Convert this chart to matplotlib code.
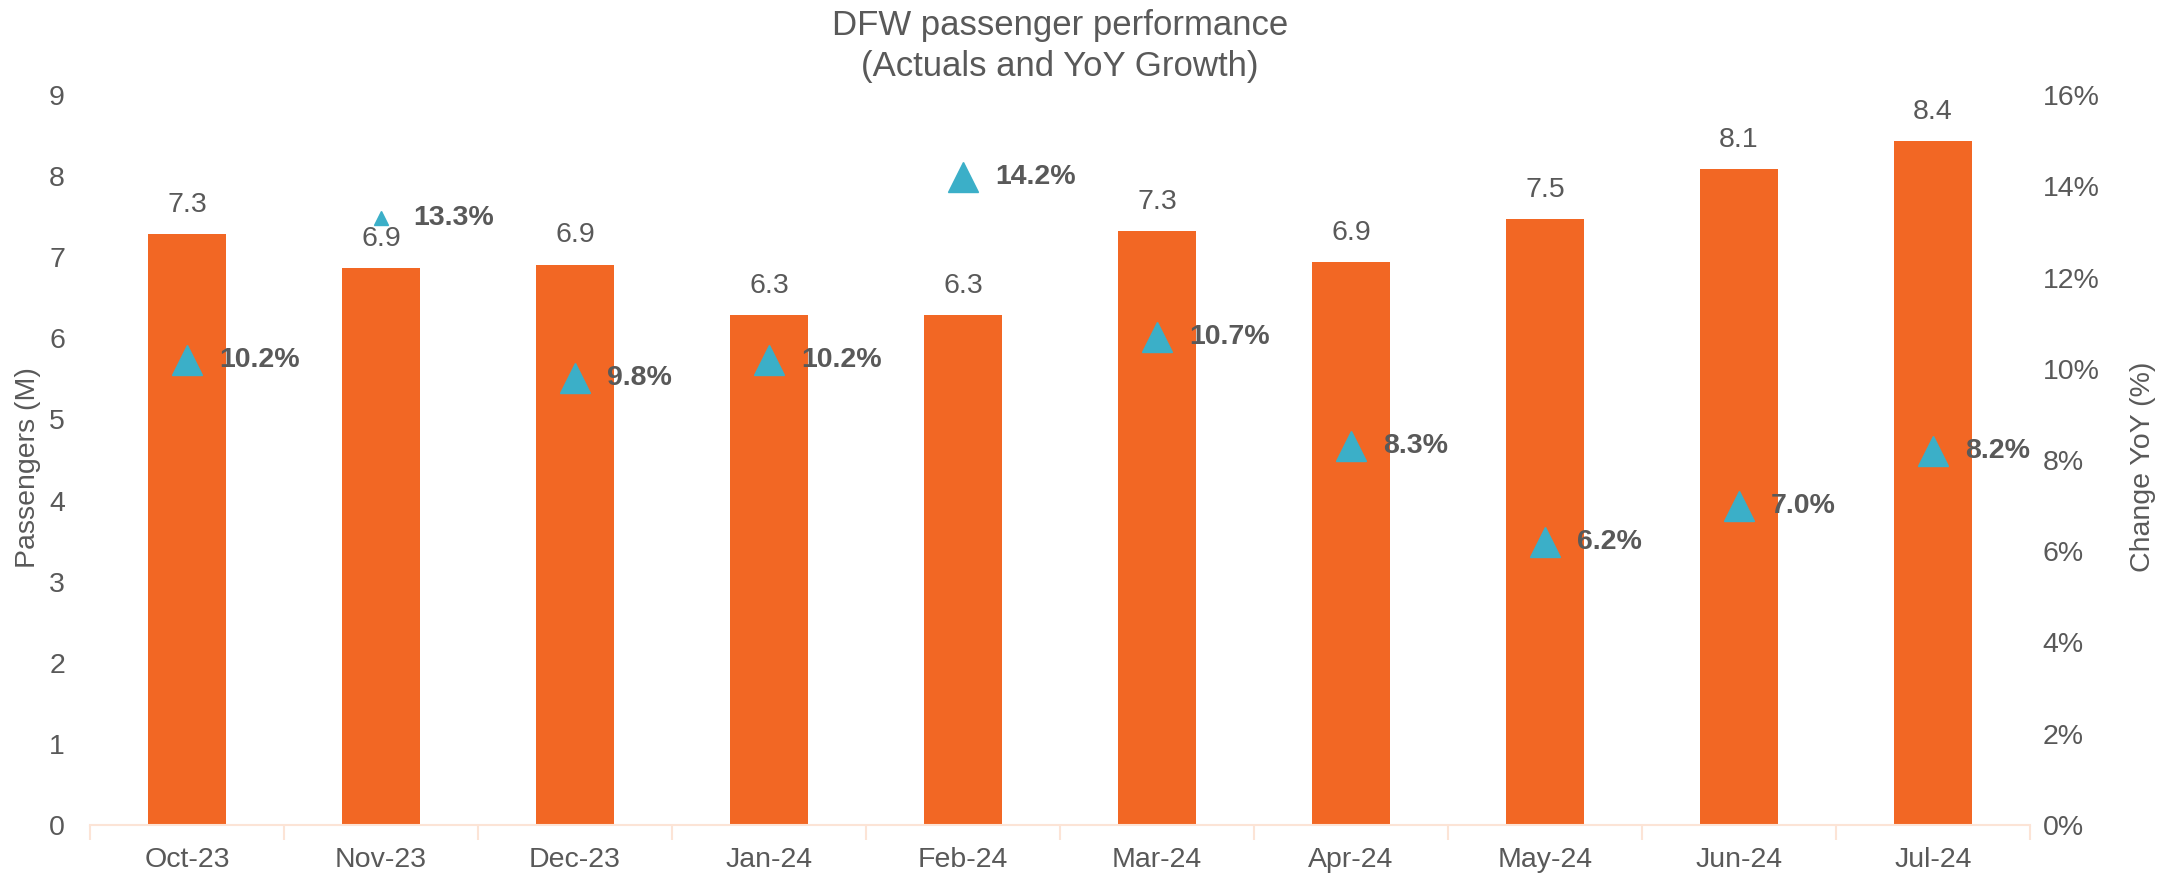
import matplotlib
matplotlib.use("Agg")
import matplotlib.pyplot as plt
from matplotlib.ticker import FixedLocator, PercentFormatter

# ── Data ──────────────────────────────────────────────────────────────
months     = ["Oct-23", "Nov-23", "Dec-23", "Jan-24", "Feb-24",
              "Mar-24", "Apr-24", "May-24", "Jun-24", "Jul-24"]
passengers = [7.29, 6.87, 6.91, 6.29, 6.29, 7.32, 6.94, 7.47, 8.09, 8.43]   # millions
yoy_pct    = [10.2, 13.3, 9.8, 10.2, 14.2, 10.7, 8.3, 6.2, 7.0, 8.2]        # %
marker_pt  = [22, 10, 22, 22, 22, 22, 22, 22, 22, 22]

# ── Style ─────────────────────────────────────────────────────────────
BAR_COLOR = "#F26724"
TRI_COLOR = "#3BAFC8"
TXT_COLOR = "#595959"
AXIS_LINE = "#FCE4D6"

plt.rcParams["font.family"] = ["Liberation Sans", "DejaVu Sans"]

fig = plt.figure(figsize=(21.82, 8.76), dpi=100)
ax = fig.add_axes([90 / 2182, 1 - 825 / 876, 1940 / 2182, 730 / 876])
ax2 = ax.twinx()

x = list(range(len(months)))

# ── bars + value labels ───────────────────────────────────────────────
ax.bar(x, passengers, width=0.4, color=BAR_COLOR, zorder=2)
for xi, v in zip(x, passengers):
    ax.annotate(f"{v:.1f}", (xi, v), xytext=(0, 21), textcoords="offset points",
                ha="center", va="center", fontsize=20.5, color=TXT_COLOR)

ax.set_xlim(-0.5, len(months) - 0.5)
ax.set_ylim(0, 9)
ax.set_yticks(range(0, 10))
ax.set_xticks(x)
ax.set_xticklabels(months)
ax.xaxis.set_minor_locator(FixedLocator([i - 0.5 for i in range(len(months) + 1)]))
ax.tick_params(axis="x", which="major", length=0, pad=16, labelsize=20.5, labelcolor=TXT_COLOR)
ax.tick_params(axis="x", which="minor", length=11, width=1.5, color=AXIS_LINE, direction="out")
ax.tick_params(axis="y", length=0, pad=18, labelsize=20.5, labelcolor=TXT_COLOR)
ax.set_ylabel("Passengers (M)", fontsize=20.5, color=TXT_COLOR, va="center")
ax.yaxis.set_label_coords(-0.032, 0.49)

for side in ["top", "left", "right"]:
    ax.spines[side].set_visible(False)
ax.spines["bottom"].set_color(AXIS_LINE)
ax.spines["bottom"].set_linewidth(1.5)

# ── YoY triangles + labels ───────────────────────────────────────────
for xi, p, ms in zip(x, yoy_pct, marker_pt):
    ax2.plot(xi, p, marker="^", markersize=ms, color=TRI_COLOR, ls="none", zorder=3)
    ax2.annotate(f"{p:.1f}%", (xi, p), xytext=(23, 0), textcoords="offset points",
                 ha="left", va="center", fontsize=20.5, fontweight="bold", color=TXT_COLOR)

ax2.set_ylim(0, 16)
ax2.set_yticks(range(0, 17, 2))
ax2.yaxis.set_major_formatter(PercentFormatter(decimals=0))
ax2.tick_params(axis="y", length=0, pad=9, labelsize=20.5, labelcolor=TXT_COLOR)
ax2.set_ylabel("Change YoY (%)", fontsize=20.5, color=TXT_COLOR, va="center")
ax2.yaxis.set_label_coords(1.058, 0.49)
for side in ["top", "left", "right", "bottom"]:
    ax2.spines[side].set_visible(False)

fig.text(1060 / 2182, 1 - 46 / 876, "DFW passenger performance\n(Actuals and YoY Growth)",
         ha="center", va="center", fontsize=25, color=TXT_COLOR, linespacing=1.3)

fig.savefig("out.png", dpi=100)
